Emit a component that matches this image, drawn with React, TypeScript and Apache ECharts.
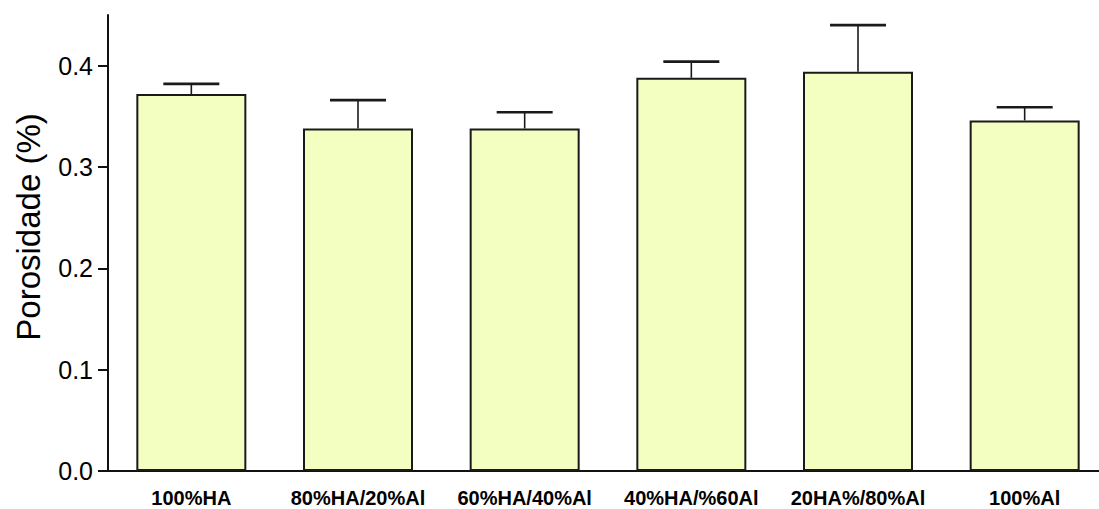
import React, { useEffect, useRef } from "react";
import * as echarts from "echarts";

// Porosity by composition (mean and standard deviation)
const categories = ["100%HA", "80%HA/20%Al", "60%HA/40%Al", "40%HA/%60Al", "20HA%/80%Al", "100%Al"];
const porosityMean = [0.372, 0.338, 0.338, 0.388, 0.394, 0.346];
const porositySd = [0.010, 0.028, 0.016, 0.016, 0.046, 0.013];
const yTicks = [0, 0.1, 0.2, 0.3, 0.4];
const yTitle = "Porosidade (%)";

export default function App() {
  const ref = useRef<HTMLDivElement>(null);

  useEffect(() => {
    if (!ref.current) return;
    const chart = echarts.init(ref.current, undefined, { renderer: "svg" });

    const errorData = categories.map((_, i) => [i, porosityMean[i], porosityMean[i] + porositySd[i]]);

    chart.setOption({
      animation: false,
      backgroundColor: "#ffffff",
      grid: { left: 108, right: 2, top: 15, bottom: 38 },
      graphic: [
        {
          type: "text",
          x: 28,
          y: 227,
          rotation: Math.PI / 2,
          style: {
            text: yTitle,
            fill: "#000",
            fontFamily: "Liberation Sans, Arial, sans-serif",
            fontSize: 33,
            align: "center",
            verticalAlign: "middle",
          },
        },
      ],
      xAxis: {
        type: "category",
        data: categories,
        axisLine: { lineStyle: { color: "#111", width: 2 } },
        axisTick: { show: false },
        axisLabel: {
          interval: 0,
          color: "#000",
          fontFamily: "Liberation Sans, Arial, sans-serif",
          fontWeight: "bold",
          fontSize: 20,
          margin: 17,
        },
      },
      yAxis: {
        type: "value",
        min: 0,
        max: 0.45,
        interval: 0.1,
        splitLine: { show: false },
        axisLine: { show: true, lineStyle: { color: "#111", width: 2 } },
        axisTick: {
          show: true,
          length: 10,
          customValues: yTicks,
          lineStyle: { color: "#111", width: 2 },
        },
        axisLabel: {
          color: "#000",
          fontFamily: "Liberation Sans, Arial, sans-serif",
          fontSize: 25,
          margin: 15,
          customValues: yTicks,
          formatter: (v: number) => v.toFixed(1),
        },
      },
      series: [
        {
          type: "bar",
          data: porosityMean,
          barWidth: 110,
          itemStyle: { color: "#F3FEC1", borderColor: "#1a1a1a", borderWidth: 2 },
          z: 2,
        },
        {
          type: "custom",
          data: errorData,
          z: 3,
          renderItem: (params: any, api: any) => {
            const x = api.value(0);
            const base = api.coord([x, api.value(1)]);
            const top = api.coord([x, api.value(2)]);
            const half = 28;
            return {
              type: "group",
              children: [
                {
                  type: "line",
                  shape: { x1: base[0], y1: base[1], x2: top[0], y2: top[1] },
                  style: { stroke: "#1a1a1a", lineWidth: 1.6 },
                },
                {
                  type: "line",
                  shape: { x1: top[0] - half, y1: top[1], x2: top[0] + half, y2: top[1] },
                  style: { stroke: "#1a1a1a", lineWidth: 2.6 },
                },
              ],
            };
          },
        },
      ],
    });

    return () => chart.dispose();
  }, []);

  return (
    <div style={{ position: "absolute", left: 0, top: 0, width: 1099, height: 509, overflow: "hidden", background: "#fff" }}>
      <div ref={ref} style={{ width: 1110, height: 509 }} />
    </div>
  );
}
